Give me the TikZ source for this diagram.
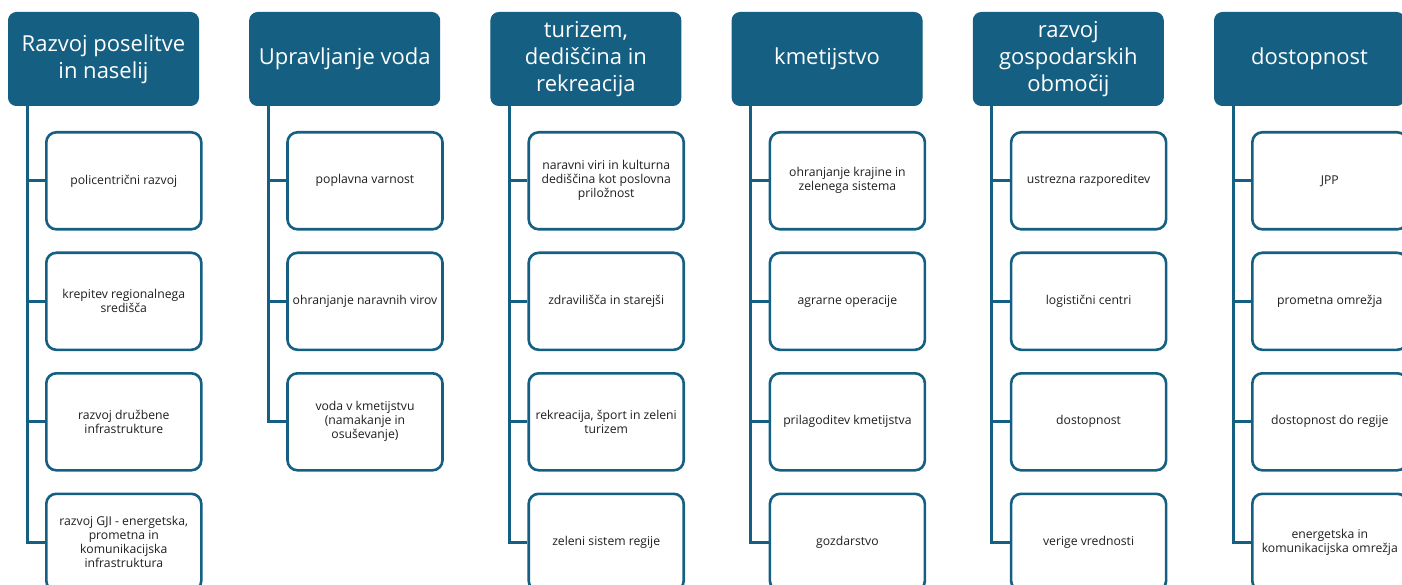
\documentclass[tikz,border=0pt]{standalone}
\usepackage{fontspec}
\setmainfont{Open Sans}
\definecolor{teal}{HTML}{156082}
\definecolor{txt}{HTML}{1F1F1F}
\tikzset{
  head/.style={fill=teal, draw=teal, line width=1pt, rounded corners=8pt, anchor=north west,
    minimum width=190pt, minimum height=93pt, inner sep=2pt, align=center,
    text=white, font=\fontsize{22}{27}\selectfont},
  leaf/.style={fill=white, draw=teal, line width=2.6pt, rounded corners=10pt, anchor=north west,
    minimum width=155pt, minimum height=97pt, inner sep=1pt, align=center,
    text=txt, font=\fontsize{12.2}{14}\selectfont},
  conn/.style={draw=teal, line width=3pt}
}
\begin{document}
\begin{tikzpicture}[x=1pt,y=-1pt]
\useasboundingbox (0,0) rectangle (1402,585);
\clip (0,0) rectangle (1402,585);
\fill[white] (0,0) rectangle (1402,585);
% column 1
\node[head] (h1) at (8,12) {Razvoj poselitve\\in naselij};
\coordinate (v1) at (27,104);
\node[leaf] (a1) at (45,131) {policentrični razvoj};
\node[leaf] (a2) at (45,251.5) {krepitev regionalnega\\središča};
\node[leaf] (a3) at (45,372) {razvoj družbene\\infrastrukture};
\node[leaf] (a4) at (45,492.5) {razvoj GJI - energetska,\\prometna in\\komunikacijska\\infrastruktura};
% column 2
\node[head] (h2) at (249.2,12) {Upravljanje voda};
\coordinate (v2) at (268.2,104);
\node[leaf] (b1) at (286.2,131) {poplavna varnost};
\node[leaf] (b2) at (286.2,251.5) {ohranjanje naravnih virov};
\node[leaf] (b3) at (286.2,372) {voda v kmetijstvu\\(namakanje in\\osuševanje)};
% column 3
\node[head] (h3) at (490.4,12) {turizem,\\dediščina in\\rekreacija};
\coordinate (v3) at (509.4,104);
\node[leaf] (c1) at (527.4,131) {naravni viri in kulturna\\dediščina kot poslovna\\priložnost};
\node[leaf] (c2) at (527.4,251.5) {zdravilišča in starejši};
\node[leaf] (c3) at (527.4,372) {rekreacija, šport in zeleni\\turizem};
\node[leaf] (c4) at (527.4,492.5) {zeleni sistem regije};
% column 4
\node[head] (h4) at (731.6,12) {kmetijstvo};
\coordinate (v4) at (750.6,104);
\node[leaf] (d1) at (768.6,131) {ohranjanje krajine in\\zelenega sistema};
\node[leaf] (d2) at (768.6,251.5) {agrarne operacije};
\node[leaf] (d3) at (768.6,372) {prilagoditev kmetijstva};
\node[leaf] (d4) at (768.6,492.5) {gozdarstvo};
% column 5
\node[head] (h5) at (972.8,12) {razvoj\\gospodarskih\\območij};
\coordinate (v5) at (991.8,104);
\node[leaf] (e1) at (1009.8,131) {ustrezna razporeditev};
\node[leaf] (e2) at (1009.8,251.5) {logistični centri};
\node[leaf] (e3) at (1009.8,372) {dostopnost};
\node[leaf] (e4) at (1009.8,492.5) {verige vrednosti};
% column 6
\node[head] (h6) at (1214,12) {dostopnost};
\coordinate (v6) at (1233,104);
\node[leaf] (f1) at (1251,131) {JPP};
\node[leaf] (f2) at (1251,251.5) {prometna omrežja};
\node[leaf] (f3) at (1251,372) {dostopnost do regije};
\node[leaf] (f4) at (1251,492.5) {energetska in\\komunikacijska omrežja};
% connectors
\foreach \v/\list in {v1/{a1,a2,a3,a4}, v2/{b1,b2,b3}, v3/{c1,c2,c3,c4}, v4/{d1,d2,d3,d4}, v5/{e1,e2,e3,e4}, v6/{f1,f2,f3,f4}}{
  \foreach \c in \list { \draw[conn] (\v) |- (\c.west); }
}
\end{tikzpicture}
\end{document}
